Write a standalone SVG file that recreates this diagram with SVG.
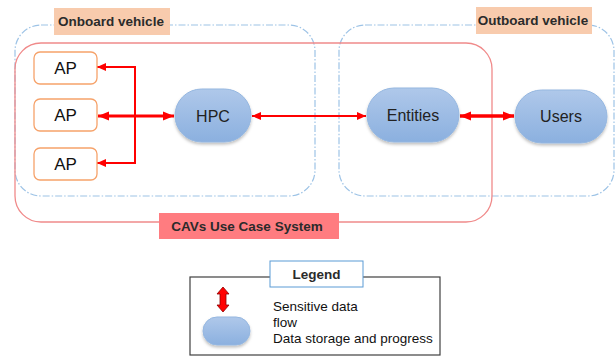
<svg xmlns="http://www.w3.org/2000/svg" width="616" height="356" viewBox="0 0 616 356">
<style>
.zone{fill:none;stroke:#9dc3e6;stroke-width:1.2;stroke-dasharray:7 2 1.5 2}
.sys{fill:none;stroke:#f08a8a;stroke-width:1.3}
.lbl{font-family:"Liberation Sans",Arial,sans-serif;font-weight:bold;font-size:13.5px;fill:#2b2b2b}
.ap{fill:#fff;stroke:#f6a26a;stroke-width:1.3}
.apt{font-family:"Liberation Sans",Arial,sans-serif;font-size:17px;fill:#111;text-anchor:middle}
.pill{fill:url(#bl);stroke:#95b7e0;stroke-width:1;filter:url(#sh)}
.nt{font-family:"Liberation Sans",Arial,sans-serif;font-size:16px;fill:#222;text-anchor:middle}
.c{stroke:#ff0000;fill:none}
.lt{font-family:"Liberation Sans",Arial,sans-serif;font-size:13.5px;fill:#111}
</style>
<defs>
<linearGradient id="bl" x1="0" y1="0" x2="0" y2="1">
<stop offset="0" stop-color="#afc8ea"/>
<stop offset="1" stop-color="#8bb0df"/>
</linearGradient>
<filter id="sh" x="-20%" y="-20%" width="140%" height="150%">
<feDropShadow dx="0" dy="2" stdDeviation="1.5" flood-color="#000" flood-opacity="0.25"/>
</filter>
<marker id="a" markerUnits="userSpaceOnUse" markerWidth="10" markerHeight="10" refX="9" refY="5" orient="auto-start-reverse" viewBox="0 0 10 10">
<path d="M0,1 L9,5 L0,9 Z" fill="#ff0000"/>
</marker>
<marker id="b" markerUnits="userSpaceOnUse" markerWidth="12" markerHeight="12" refX="11" refY="6" orient="auto-start-reverse" viewBox="0 0 12 12">
<path d="M0,1.5 L11,6 L0,10.5 Z" fill="#ff0000"/>
</marker>
</defs>

<g id="onboard-zone">
<rect class="zone" x="15" y="25" width="300" height="171" rx="26"/>
</g>
<g id="outboard-zone">
<rect class="zone" x="339" y="25" width="275" height="171" rx="26"/>
</g>
<g id="cavs-system">
<rect class="sys" x="15" y="43" width="477" height="179" rx="26"/>
</g>

<g id="onboard-label">
<rect x="54" y="8" width="116" height="27" fill="#f8cbad"/>
<text class="lbl" x="111" y="26" text-anchor="middle">Onboard vehicle</text>
</g>
<g id="outboard-label">
<rect x="476" y="7" width="116" height="27" fill="#f8cbad"/>
<text class="lbl" x="533" y="25" text-anchor="middle">Outboard vehicle</text>
</g>
<g id="cavs-label">
<rect x="159" y="213" width="180" height="26" fill="#ff7c80"/>
<text class="lbl" x="247" y="231" text-anchor="middle">CAVs Use Case System</text>
</g>

<g id="connectors">
<polyline class="c" stroke-width="2" points="135,116 135,67 97,67" marker-end="url(#a)"/>
<polyline class="c" stroke-width="2" points="135,116 135,163 97,163" marker-end="url(#a)"/>
<line class="c" stroke-width="3.2" x1="98" y1="116" x2="174" y2="116" marker-start="url(#b)" marker-end="url(#b)"/>
<line class="c" stroke-width="1.8" x1="252" y1="116" x2="366" y2="116" marker-start="url(#a)" marker-end="url(#a)"/>
<line class="c" stroke-width="3.5" x1="460" y1="116" x2="514" y2="116" marker-start="url(#b)" marker-end="url(#b)"/>
</g>

<g id="ap1">
<rect class="ap" x="34" y="52" width="63" height="32" rx="6"/>
<text class="apt" x="65.5" y="74">AP</text>
</g>
<g id="ap2">
<rect class="ap" x="34" y="99" width="63" height="32" rx="6"/>
<text class="apt" x="65.5" y="121">AP</text>
</g>
<g id="ap3">
<rect class="ap" x="34" y="148" width="63" height="32" rx="6"/>
<text class="apt" x="65.5" y="170">AP</text>
</g>

<g id="hpc">
<rect class="pill" x="175" y="89" width="76" height="53" rx="26.5"/>
<text class="nt" x="213" y="122" font-size="17">HPC</text>
</g>
<g id="entities">
<rect class="pill" x="367" y="88" width="92" height="54" rx="27"/>
<text class="nt" x="413" y="121">Entities</text>
</g>
<g id="users">
<rect class="pill" x="515" y="90" width="92" height="53" rx="26.5"/>
<text class="nt" x="561" y="122">Users</text>
</g>

<g id="legend">
<rect x="190" y="277" width="250" height="78" fill="#fff" stroke="#404040" stroke-width="1.2"/>
<rect x="270" y="261" width="93" height="26" fill="#fff" stroke="#5b9bd5" stroke-width="1"/>
<text class="lbl" x="316.5" y="279" text-anchor="middle">Legend</text>
<path d="M223,287 L229,294 L226,294 L226,305 L229,305 L223,312 L217,305 L220,305 L220,294 L217,294 Z" fill="#ff0000" stroke="#8b0000" stroke-width="0.8"/>
<rect x="203" y="317" width="47" height="28" rx="14" fill="url(#bl)" stroke="#95b7e0" stroke-width="1" filter="url(#sh)"/>
<text class="lt" x="273" y="311">Sensitive data</text>
<text class="lt" x="273" y="327">flow</text>
<text class="lt" x="273" y="343">Data storage and progress</text>
</g>
</svg>
